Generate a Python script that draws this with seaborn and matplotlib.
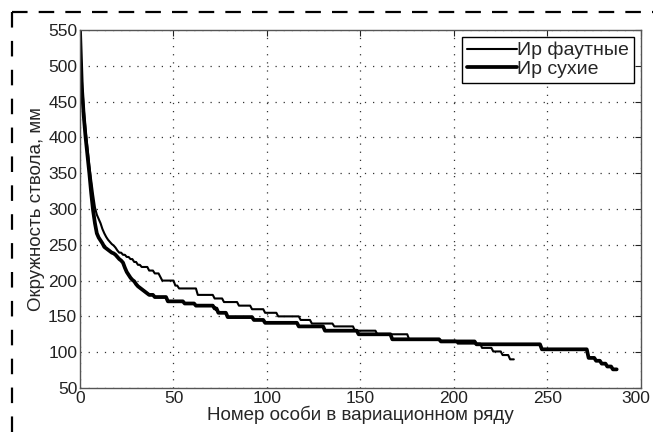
import numpy as np
import pandas as pd
import matplotlib
matplotlib.use("Agg")
import matplotlib.pyplot as plt
import matplotlib.transforms as mtransforms
from matplotlib.lines import Line2D
import seaborn as sns

# Trunk girth (mm), ranked in descending order; stored as plateau values + run lengths
faut_values = [542, 480, 440, 410, 385, 360, 340, 320, 302, 292,
               286, 280, 272, 266, 261, 257, 254, 251, 249, 246, 242,
               239, 236, 233, 230, 226, 222, 219, 214, 210, 205, 200,
               193, 189, 180, 175, 170, 165, 160, 155, 150, 145, 140,
               136, 130, 125, 118, 116, 112, 106, 101, 96, 90]
faut_counts = [1] * 21 + [2, 2, 2, 2, 2, 2, 4, 3, 3, 1, 7,
                          2, 10, 9, 5, 8, 7, 7, 7, 12, 6, 12,
                          11, 12, 17, 17, 9, 13, 6, 5, 4, 3]

dry_values = [550, 470, 430, 400, 375, 350, 322, 298, 280, 266,
              260, 256, 252, 247, 245, 243, 241, 239, 238, 236,
              233, 230, 228, 225, 218, 212, 208, 204, 201, 199,
              195, 192, 190, 188, 186, 184, 182,
              180, 177, 171, 168, 165, 161, 155, 149, 145, 141,
              136, 130, 125, 118, 115, 111, 104, 92, 88, 84, 80, 76]
dry_counts = [1] * 37 + [3, 7, 9, 6, 10, 2, 5, 14, 6, 18,
                         14, 18, 18, 26, 19, 35, 25, 4, 3, 3, 3, 3]

x_ticks = [0, 50, 100, 150, 200, 250, 300]
y_ticks = [50, 100, 150, 200, 250, 300, 350, 400, 450, 500, 550]

label_faut = "Ир фаутные"
label_dry = "Ир сухие"
x_label = "Номер особи в вариационном ряду"
y_label = "Окружность ствола, мм"

faut = np.repeat(faut_values, faut_counts)
dry = np.repeat(dry_values, dry_counts)
df_faut = pd.DataFrame({"rank": np.arange(len(faut)), "girth": faut})
df_dry = pd.DataFrame({"rank": np.arange(len(dry)), "girth": dry})

sns.set_style("white")
plt.rcParams["font.family"] = ["Liberation Sans", "DejaVu Sans"]

fig = plt.figure(figsize=(6.53, 4.32), dpi=100)
ax = fig.add_axes([0.1225, 0.1019, 0.8591, 0.8287])

sns.lineplot(data=df_faut, x="rank", y="girth", ax=ax, color="black",
             linewidth=1.5, estimator=None, label=label_faut)
sns.lineplot(data=df_dry, x="rank", y="girth", ax=ax, color="black",
             linewidth=2.7, estimator=None, label=label_dry)

ax.set_xlim(0, 300)
ax.set_ylim(50, 550)
ax.set_xticks(x_ticks)
ax.set_yticks(y_ticks)
ax.tick_params(direction="in", length=4, width=0.8, colors="#222222",
               labelsize=12.5, top=True, right=True, pad=2)
for s in ax.spines.values():
    s.set_visible(True)
    s.set_color("#555555")
    s.set_linewidth(1.0)
ax.grid(True, linestyle=(0, (1, 5.5)), color="#333333", linewidth=0.9)
ax.set_xlabel(x_label, fontsize=13.5, labelpad=0)
ax.set_ylabel(y_label, fontsize=13.5, labelpad=2)

# keep the last x tick label inside the figure
last = ax.get_xticklabels()[-1]
last.set_transform(last.get_transform() +
                   mtransforms.ScaledTranslation(-5 / 100, 0, fig.dpi_scale_trans))

leg = ax.legend(loc="upper right", bbox_to_anchor=(0.9875, 0.9804),
                borderaxespad=0, fancybox=False, framealpha=1,
                edgecolor="black", fontsize=14, handlelength=2.6,
                handletextpad=0.0, borderpad=0.25, labelspacing=0.05)
leg.get_frame().set_linewidth(1.0)

# dashed frame around the figure
fig.add_artist(Line2D([12 / 653, 1], [1 - 12 / 432] * 2, transform=fig.transFigure,
                      color="black", linewidth=1.6, linestyle=(0, (7, 5))))
fig.add_artist(Line2D([12 / 653] * 2, [0, 1 - 12 / 432], transform=fig.transFigure,
                      color="black", linewidth=1.6, linestyle=(0, (7, 6))))

fig.savefig("out.png", dpi=100)
